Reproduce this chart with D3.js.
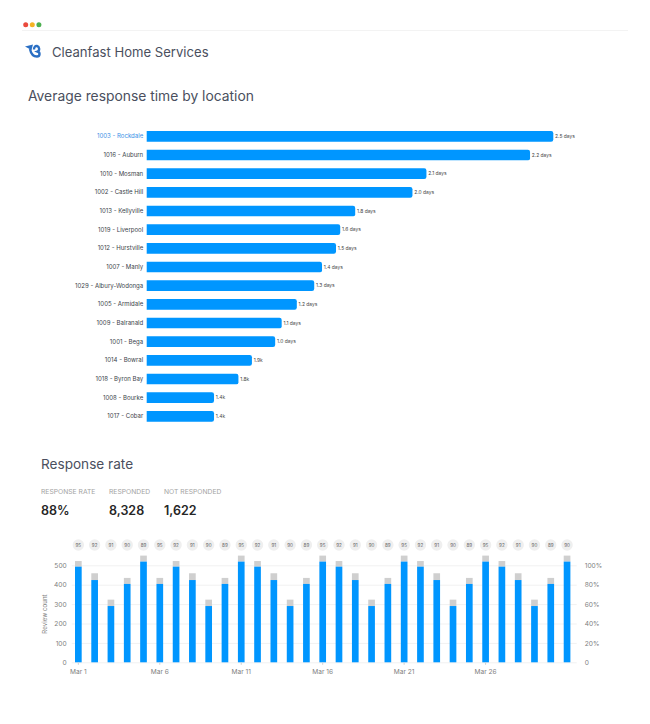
<!DOCTYPE html>
<html><head><meta charset="utf-8">
<script src="https://cdn.jsdelivr.net/npm/d3@7/dist/d3.min.js"></script>
<style>html,body{margin:0;padding:0;background:#fff}svg{display:block}text{font-family:Inter,"Noto Sans",sans-serif}</style>
</head><body><svg id="c" width="650" height="724"></svg>
<script>
const locations=["1003 - Rockdale","1016 - Auburn","1010 - Mosman","1002 - Castle Hill","1013 - Kellyville","1019 - Liverpool","1012 - Hurstville","1007 - Manly","1029 - Albury-Wodonga","1005 - Armidale","1009 - Balranald","1001 - Bega","1014 - Bowral","1018 - Byron Bay","1008 - Bourke","1017 - Cobar"];
const barLengths=[2.5,2.357,1.72,1.634,1.282,1.19,1.164,1.078,1.03,.923,.83,.79,.647,.564,.414,.414];
const barLabels=["2.5 days","2.2 days","2.1 days","2.0 days","1.8 days","1.6 days","1.5 days","1.4 days","1.3 days","1.2 days","1.1 days","1.0 days","1.9k","1.8k","1.4k","1.4k"];
const days=["Mar 1","Mar 2","Mar 3","Mar 4","Mar 5","Mar 6","Mar 7","Mar 8","Mar 9","Mar 10","Mar 11","Mar 12","Mar 13","Mar 14","Mar 15","Mar 16","Mar 17","Mar 18","Mar 19","Mar 20","Mar 21","Mar 22","Mar 23","Mar 24","Mar 25","Mar 26","Mar 27","Mar 28","Mar 29","Mar 30","Mar 31"];
const responded=[493,424,290,404,519,404,493,424,290,404,519,493,424,290,404,519,493,424,290,404,519,493,424,290,404,519,493,424,290,404,519];
const totals=[522,459,323,435,550,435,522,459,323,435,550,522,459,323,435,550,522,459,323,435,550,522,459,323,435,550,522,459,323,435,550];
const rates=[95,92,91,90,89,95,92,91,90,89,95,92,91,90,89,95,92,91,90,89,95,92,91,90,89,95,92,91,90,89,90];
const dayTicks=["Mar 1","Mar 6","Mar 11","Mar 16","Mar 21","Mar 26"];
const countTicks=[0,100,200,300,400,500];
const pctTicks=[0,20,40,60,80,100];
const stats=[["RESPONSE RATE","88%"],["RESPONDED","8,328"],["NOT RESPONDED","1,622"]];
const dots=["#ea4a3d","#f5b324","#4caf50"];

const BLUE="#0096ff",INK="#4a4f5e";
const svg=d3.select("#c");
// header
svg.selectAll("circle.dot").data(dots).join("circle").attr("class","dot").attr("cx",(d,i)=>25.7+i*6.6).attr("cy",24.7).attr("r",2.5).attr("fill",d=>d);
svg.append("line").attr("x1",22).attr("x2",628).attr("y1",30.5).attr("y2",30.5).attr("stroke","#f3f3f3");
const logo=svg.append("g");
logo.append("path").attr("d","M25 46.5L33 44.5L31.5 50Z").attr("fill","#2a6fc4");
logo.append("path").attr("d","M30 49C31 54 34 56.5 37 56.5C40 56.5 40.5 52.5 37.5 51.5C40 50.5 39.5 46.5 37 46C35 45.7 34 47.5 34 49.5").attr("fill","none").attr("stroke","#2a6fc4").attr("stroke-width",2.4);
svg.append("text").attr("x",52).attr("y",56.5).attr("font-size",13.1).attr("fill",INK).text("Cleanfast Home Services");
svg.append("text").attr("x",28).attr("y",100.5).attr("font-size",13.85).attr("fill",INK).text("Average response time by location");

// horizontal bars
const y=d3.scaleBand().domain(locations).range([127,425.7]).paddingInner(.4286).paddingOuter(.2143);
const x=d3.scaleLinear().domain([0,2.5]).range([146.7,553.3]);
const rounded=(x0,x1,t,h,r)=>`M${x0},${t}H${x1-r}Q${x1},${t} ${x1},${t+r}V${t+h-r}Q${x1},${t+h} ${x1-r},${t+h}H${x0}Z`;
svg.append("g").selectAll("path").data(locations).join("path")
 .attr("d",(d,i)=>rounded(x(0),x(barLengths[i]),y(d),y.bandwidth(),2.2)).attr("fill",BLUE);
const yAxis=svg.append("g").attr("transform",`translate(${x(0)},0)`).call(d3.axisLeft(y).tickSize(0).tickPadding(3.5));
yAxis.select(".domain").remove();
yAxis.selectAll("text").attr("font-size",6.05).attr("fill",(d,i)=>i===0?"#3a8fe6":"#3b3f4a").style("font-family","Inter");
svg.append("g").selectAll("text").data(locations).join("text")
 .attr("x",(d,i)=>x(barLengths[i])+1.8).attr("y",d=>y(d)+y.bandwidth()/2).attr("dy","0.35em")
 .attr("font-size",4.9).attr("fill","#444").text((d,i)=>barLabels[i]);

// response rate
svg.append("text").attr("x",41).attr("y",468.5).attr("font-size",13.6).attr("fill",INK).text("Response rate");
const statX=[41,109,164];
stats.forEach((s,i)=>{
 svg.append("text").attr("x",statX[i]).attr("y",494.3).attr("font-size",6.75).attr("fill","#a3a3a3").text(s[0]);
 svg.append("text").attr("x",statX[i]).attr("y",514.5).attr("font-size",12.5).attr("font-weight",600).attr("fill","#262626").text(s[1]);
});

const bx=d3.scaleBand().domain(days).range([70.2,575.2]).paddingInner(.59).paddingOuter(.295);
const by=d3.scaleLinear().domain([0,500]).range([662.3,565.3]);
const py=d3.scaleLinear().domain([0,100]).range([662.3,565.3]);
const left=svg.append("g").attr("transform","translate(71.7,0)").call(d3.axisLeft(by).tickValues(countTicks).tickSize(-505).tickPadding(5));
left.select(".domain").remove();
left.selectAll("line").attr("stroke","#f1f1f1");
left.selectAll("text").attr("font-size",6.6).attr("fill","#808080");
const right=svg.append("g").attr("transform","translate(576.7,0)").call(d3.axisRight(py).tickValues(pctTicks).tickFormat(d=>d===0?"0":d+"%").tickSize(0).tickPadding(8));
right.select(".domain").remove();
right.selectAll("text").attr("font-size",6.6).attr("fill","#808080");
svg.append("text").attr("transform","translate(46.5,614) rotate(-90)").attr("text-anchor","middle").attr("font-size",6.2).attr("fill","#808080").text("Review count");
svg.append("g").selectAll("rect").data(days).join("rect")
 .attr("x",d=>bx(d)).attr("width",bx.bandwidth())
 .attr("y",(d,i)=>by(totals[i])).attr("height",(d,i)=>by(responded[i])-by(totals[i])).attr("fill","#cfcfcf");
svg.append("g").selectAll("rect").data(days).join("rect")
 .attr("x",d=>bx(d)).attr("width",bx.bandwidth())
 .attr("y",(d,i)=>by(responded[i])).attr("height",(d,i)=>by(0)-by(responded[i])).attr("fill",BLUE);
const bottom=svg.append("g").attr("transform","translate(0,662.3)").call(d3.axisBottom(bx).tickValues(dayTicks).tickSize(2.5).tickPadding(5));
bottom.select(".domain").remove();
bottom.selectAll("line").attr("stroke","#d0d0d0");
bottom.selectAll("text").attr("font-size",6.6).attr("fill","#808080");
const pill=svg.append("g").selectAll("g").data(days).join("g").attr("transform",d=>`translate(${bx(d)+bx.bandwidth()/2},545)`);
pill.append("circle").attr("r",5.7).attr("fill","#efefef");
pill.append("text").attr("text-anchor","middle").attr("dy","0.35em").attr("font-size",4.6).attr("fill","#666").text((d,i)=>rates[i]);
</script></body></html>
